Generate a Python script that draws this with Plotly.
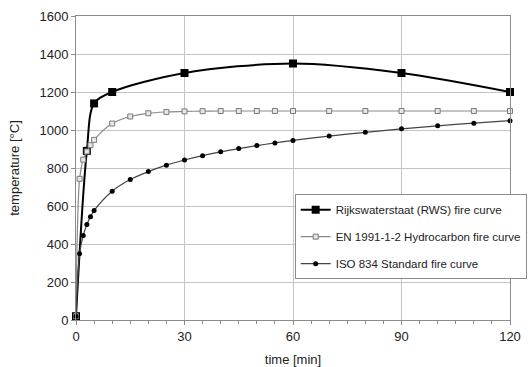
import plotly.graph_objects as go

# RWS curve
rws_t = [0, 3, 5, 10, 30, 60, 90, 120]
rws_T = [20, 890, 1140, 1200, 1300, 1350, 1300, 1200]

# Hydrocarbon curve
hc_t = [0, 1, 2, 3, 4, 5, 10, 15, 20, 25, 30, 35, 40, 45, 50, 55, 60, 70, 80, 90, 100, 110, 120]
hc_T = [20, 743, 844, 887, 920, 948, 1034, 1071, 1088, 1095, 1098, 1099, 1100, 1100, 1100, 1100,
        1100, 1100, 1100, 1100, 1100, 1100, 1100]

# ISO 834 curve
iso_t = [0, 1, 2, 3, 4, 5, 10, 15, 20, 25, 30, 35, 40, 45, 50, 55, 60, 70, 80, 90, 100, 110, 120]
iso_T = [20, 349, 445, 502, 544, 576, 678, 739, 781, 815, 842, 865, 885, 902, 918, 932, 945,
         968, 988, 1006, 1022, 1036, 1049]

names = ["Rijkswaterstaat (RWS) fire curve",
         "EN 1991-1-2 Hydrocarbon fire curve",
         "ISO 834 Standard fire curve"]

fig = go.Figure()
fig.add_trace(go.Scatter(
    x=rws_t, y=rws_T, name=names[0], mode="lines+markers",
    line=dict(color="black", width=2, shape="spline", smoothing=0.9),
    marker=dict(symbol="square", size=8, color="black"),
    cliponaxis=False, legendgroup="a"))
fig.add_trace(go.Scatter(
    x=hc_t, y=hc_T, name=names[1], mode="lines+markers",
    line=dict(color="#8a8a8a", width=1.2, shape="spline", smoothing=0.9),
    marker=dict(symbol="square", size=5, color="#e6e6e6", line=dict(color="#7a7a7a", width=1)),
    cliponaxis=False, legendgroup="b"))
fig.add_trace(go.Scatter(
    x=iso_t, y=iso_T, name=names[2], mode="lines+markers",
    line=dict(color="#444444", width=1.2, shape="spline", smoothing=0.9),
    marker=dict(symbol="circle", size=5, color="black"),
    cliponaxis=False, legendgroup="c"))

axis_common = dict(
    showline=True, mirror=True, linecolor="#8c8c8c", linewidth=1,
    showgrid=True, gridcolor="#c4c4c4", gridwidth=1,
    zeroline=False, ticks="outside", tickcolor="#8c8c8c", ticklen=4,
    tickfont=dict(family="Liberation Sans, Arial", size=13, color="#222222"),
    automargin=False,
)

fig.update_xaxes(
    range=[0, 120], tickvals=[0, 30, 60, 90, 120],
    minor=dict(dtick=5, ticks="outside", ticklen=3, tickcolor="#8c8c8c", showgrid=False),
    title=dict(text="time [min]", font=dict(family="Liberation Sans, Arial", size=13, color="#222222"),
               standoff=14),
    **axis_common)
fig.update_yaxes(
    range=[0, 1600], tickvals=[0, 200, 400, 600, 800, 1000, 1200, 1400, 1600],
    title=dict(text="temperature [°C]", font=dict(family="Liberation Sans, Arial", size=13, color="#222222"),
               standoff=16),
    **axis_common)

fig.update_layout(
    width=530, height=367,
    margin=dict(l=76, r=20, t=16, b=47, autoexpand=False),
    paper_bgcolor="white", plot_bgcolor="white",
    font=dict(family="Liberation Sans, Arial", size=12, color="#222222"),
    legend=dict(
        xref="container", yref="container",
        x=0.556, y=0.471, xanchor="left", yanchor="top",
        bgcolor="white", bordercolor="#8c8c8c", borderwidth=1,
        font=dict(family="Liberation Sans, Arial", size=11.5, color="#222222"),
        itemwidth=30, tracegroupgap=8, traceorder="grouped",
    ),
    showlegend=True,
)

fig.write_html("out.html")
